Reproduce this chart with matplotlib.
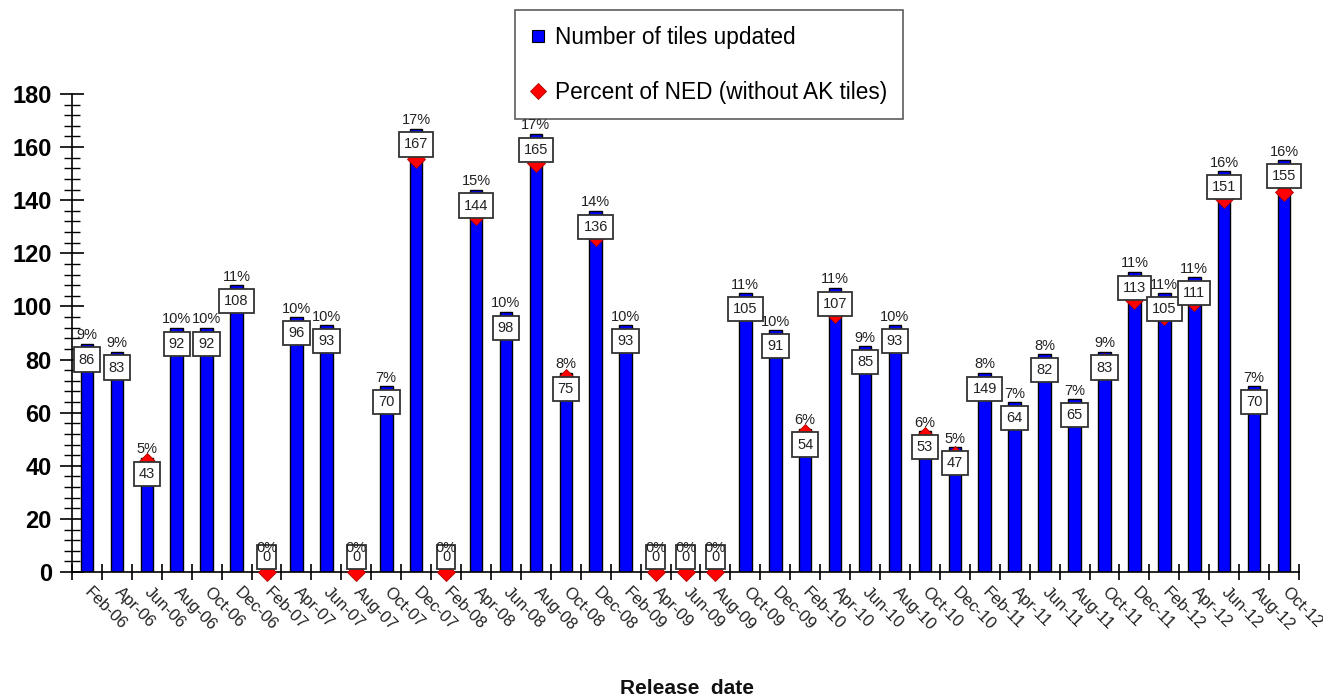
import matplotlib
matplotlib.use("Agg")
import matplotlib.pyplot as plt
from matplotlib.lines import Line2D

plt.rcParams['font.family'] = ['Liberation Sans', 'DejaVu Sans']

categories = ["Feb-06", "Apr-06", "Jun-06", "Aug-06", "Oct-06", "Dec-06",
              "Feb-07", "Apr-07", "Jun-07", "Aug-07", "Oct-07", "Dec-07",
              "Feb-08", "Apr-08", "Jun-08", "Aug-08", "Oct-08", "Dec-08",
              "Feb-09", "Apr-09", "Jun-09", "Aug-09", "Oct-09", "Dec-09",
              "Feb-10", "Apr-10", "Jun-10", "Aug-10", "Oct-10", "Dec-10",
              "Feb-11", "Apr-11", "Jun-11", "Aug-11", "Oct-11", "Dec-11",
              "Feb-12", "Apr-12", "Jun-12", "Aug-12", "Oct-12"]

tiles_updated = [86, 83, 43, 92, 92, 108, 0, 96, 93, 0, 70, 167,
                 0, 144, 98, 165, 75, 136, 93, 0, 0, 0, 105, 91,
                 54, 107, 85, 93, 53, 47, 75, 64, 82, 65, 83, 113,
                 105, 111, 151, 70, 155]

tile_labels = ["86", "83", "43", "92", "92", "108", "0", "96", "93", "0", "70", "167",
               "0", "144", "98", "165", "75", "136", "93", "0", "0", "0", "105", "91",
               "54", "107", "85", "93", "53", "47", "149", "64", "82", "65", "83", "113",
               "105", "111", "151", "70", "155"]

percent_ned = [8.9, 8.6, 4.6, 9.6, 9.6, 11.3, 0, 10.0, 9.7, 0, 7.1, 17.3,
               0, 14.9, 10.2, 17.1, 8.1, 14.0, 9.7, 0, 0, 0, 11.0, 9.6,
               5.8, 10.8, 8.8, 9.7, 5.7, 4.9, 7.7, 6.6, 8.4, 6.6, 8.8, 11.4,
               10.7, 11.3, 15.6, 7.1, 15.9]

W, H = 1323, 698
fig = plt.figure(figsize=(W / 100, H / 100), dpi=100)
ax = fig.add_axes([72 / W, 1 - 572 / H, (1299 - 72) / W, (572 - 94) / H])

x = list(range(len(categories)))
ax.bar(x, tiles_updated, width=0.42, color="#0000FF", edgecolor="black",
       linewidth=1.0, zorder=2)

ax.set_xlim(-0.5, len(categories) - 0.5)
ax.set_ylim(0, 180)

for s in ["top", "right"]:
    ax.spines[s].set_visible(False)
for s in ["left", "bottom"]:
    ax.spines[s].set_linewidth(1.2)

ax.set_yticks(range(0, 181, 20))
ax.set_yticks(range(0, 181, 4), minor=True)
ax.tick_params(axis="y", which="major", direction="inout", length=17, width=1.2,
               labelsize=17, pad=6)
ax.tick_params(axis="y", which="minor", direction="inout", length=11, width=1.0)
for t in ax.get_yticklabels():
    t.set_fontweight("bold")

ax.set_xticks(x)
ax.set_xticklabels(categories, rotation=-45, ha="left", va="center",
                   rotation_mode="anchor", fontsize=12, color="#222222")
ax.set_xticks([i - 0.5 for i in range(len(categories) + 1)], minor=True)
ax.tick_params(axis="x", which="major", length=0, pad=13)
ax.tick_params(axis="x", which="minor", direction="inout", length=12, width=1.2)

fig.text(687 / W, 1 - 688 / H, "Release  date", fontsize=15, fontweight="bold",
         ha="center", va="center", color="#111111")

ax2 = ax.twinx()
ax2.set_ylim(0, 20)
ax2.axis("off")
ax2.plot(x, percent_ned, linestyle="none", marker="D", markersize=9,
         markerfacecolor="#FF0000", markeredgecolor="#AA0000", markeredgewidth=0.6,
         clip_on=False, zorder=3)

for xi, v, lab, p in zip(x, tiles_updated, tile_labels, percent_ned):
    ybox = v - 6 if v > 0 else 5.6
    ypct = v + 3.2 if v > 0 else 9
    ax2.text(xi, ybox, lab, transform=ax.transData, ha="center", va="center",
             fontsize=10.5, color="#222222", zorder=5,
             bbox=dict(boxstyle="square,pad=0.35", facecolor="white",
                       edgecolor="#333333", linewidth=1.3))
    ax2.text(xi, ypct, f"{p:.0f}%", transform=ax.transData, ha="center",
             va="center", fontsize=10.5, color="#222222", zorder=6)

handles = [
    Line2D([], [], linestyle="none", marker="s", markersize=9,
           markerfacecolor="#0000FF", markeredgecolor="black", markeredgewidth=0.8),
    Line2D([], [], linestyle="none", marker="D", markersize=8,
           markerfacecolor="#FF0000", markeredgecolor="#AA0000", markeredgewidth=0.6),
]
leg = fig.legend(handles, ["Number of tiles updated", "Percent of NED (without AK tiles)"],
                 loc="upper left", bbox_to_anchor=(515 / W, 1 - 10 / H),
                 fontsize=16.3, frameon=True, fancybox=False, labelspacing=1.4,
                 handlelength=0.6, handletextpad=0.45, borderpad=0.7,
                 borderaxespad=0)
leg.get_frame().set_edgecolor("#333333")
leg.get_frame().set_linewidth(1.2)
leg.set_zorder(10)

fig.savefig("out.png", dpi=100)
